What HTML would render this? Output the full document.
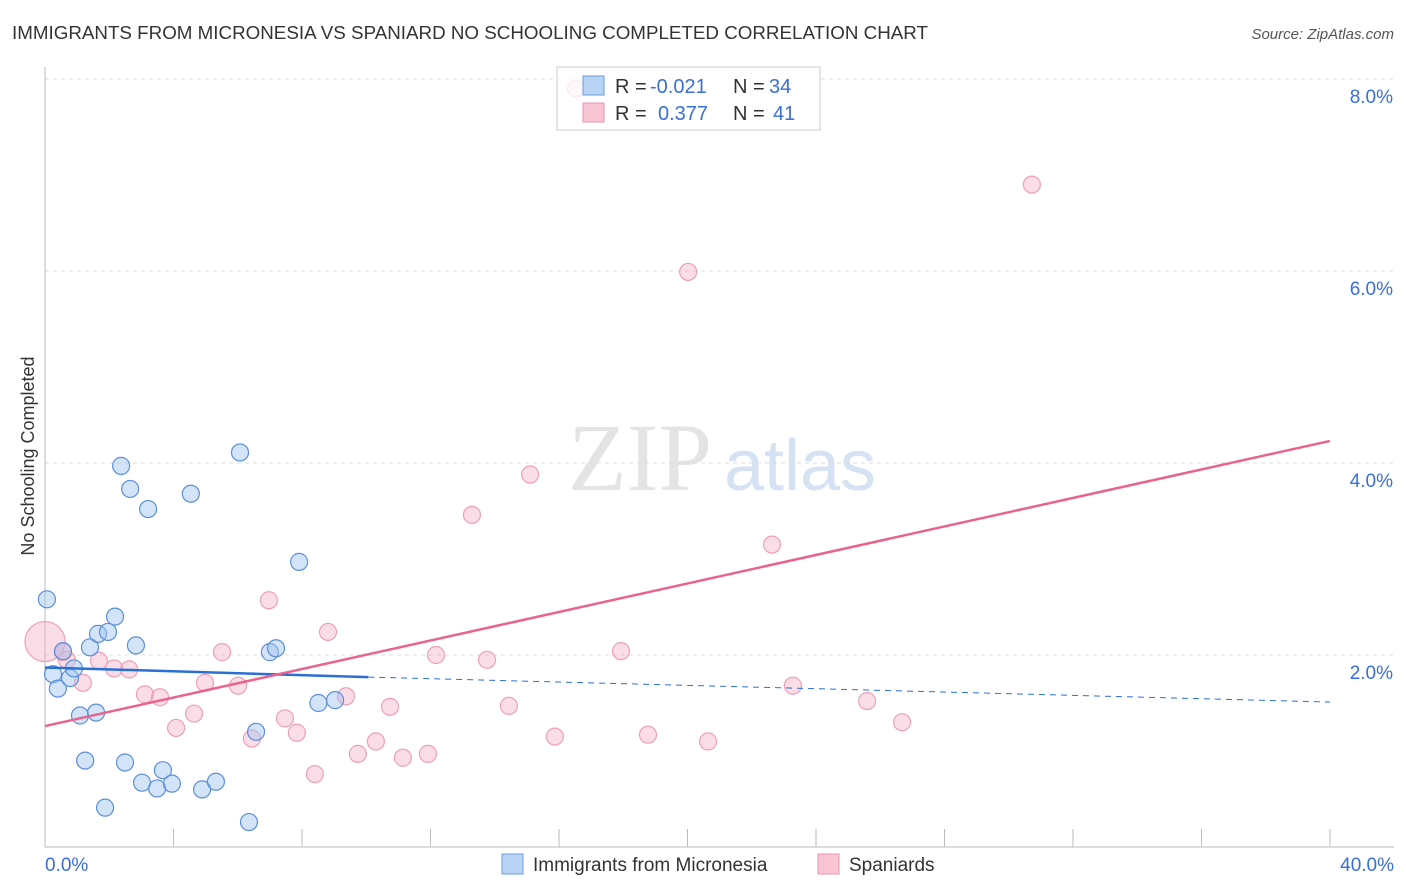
<!DOCTYPE html>
<html><head><meta charset="utf-8">
<style>
body{margin:0;background:#fff;font-family:"Liberation Sans",sans-serif;}
#wrap{position:relative;width:1406px;height:892px;overflow:hidden;}
svg{position:absolute;left:0;top:0;}
</style></head>
<body>
<div id="wrap">
<svg id="chart" width="1406" height="892">
<text x="12" y="39" font-size="18" fill="#333" textLength="916" lengthAdjust="spacingAndGlyphs">IMMIGRANTS FROM MICRONESIA VS SPANIARD NO SCHOOLING COMPLETED CORRELATION CHART</text>
<text x="1394" y="39" font-size="15" fill="#555" font-style="italic" text-anchor="end">Source: ZipAtlas.com</text>
<text x="640" y="490" font-size="96" fill="#e4e4e4" font-family="Liberation Serif" text-anchor="middle">ZIP</text>
<text x="800" y="490" font-size="72" fill="#d4e2f4" text-anchor="middle">atlas</text>
<text transform="translate(34,456) rotate(-90)" font-size="18" fill="#333" text-anchor="middle">No Schooling Completed</text>
<g id="grid"></g><g id="pts"></g><g id="lines"></g>
<g>
<rect x="557" y="67" width="263" height="63" fill="#fff" fill-opacity="0.8" stroke="#ccc"/>
<rect x="583" y="76" width="21" height="19" fill="#b9d3f5" stroke="#6a9de0"/>
<rect x="583" y="103" width="21" height="19" fill="#f9c4d4" stroke="#ec94ae"/>
<text x="615" y="93" font-size="20" fill="#333">R =</text>
<text x="650" y="93" font-size="20" fill="#3a6fd8">-0.021</text>
<text x="733" y="93" font-size="20" fill="#333">N =</text>
<text x="769" y="93" font-size="20" fill="#3a6fd8">34</text>
<text x="615" y="120" font-size="20" fill="#333">R =</text>
<text x="658" y="120" font-size="20" fill="#3a6fd8">0.377</text>
<text x="733" y="120" font-size="20" fill="#333">N =</text>
<text x="773" y="120" font-size="20" fill="#3a6fd8">41</text>
</g>
<g>
<rect x="502" y="854" width="21" height="20" fill="#b9d3f5" stroke="#6a9de0"/>
<text x="533" y="871" font-size="19" fill="#333">Immigrants from Micronesia</text>
<rect x="818" y="854" width="21" height="20" fill="#f9c4d4" stroke="#ec94ae"/>
<text x="849" y="871" font-size="19" fill="#333">Spaniards</text>
</g>
</svg>
</div>
<script>
const yTicks=[2,4,6,8];
const yTickLabels=["2.0%","4.0%","6.0%","8.0%"];
const xTicks=[0,4,8,12,16,20,24,28,32,36,40];
const blueX=[0.06,0.25,0.4,0.56,0.78,0.9,1.09,1.4,1.59,1.25,1.65,1.96,2.18,2.37,2.65,2.83,3.21,2.49,1.87,3.02,3.49,3.67,3.95,4.54,4.89,5.32,6.07,6.35,6.57,7.0,7.19,7.91,8.51,9.03];
const blueY=[2.58,1.80,1.65,2.04,1.76,1.86,1.37,2.08,1.40,0.90,2.22,2.24,2.40,3.97,3.73,2.10,3.52,0.88,0.41,0.67,0.61,0.80,0.66,3.68,0.60,0.68,4.11,0.26,1.20,2.03,2.07,2.97,1.50,1.53];
const pinkX=[0,0.56,0.68,1.18,1.68,2.15,2.62,3.11,3.58,4.08,4.64,4.98,5.51,6.01,6.44,6.97,7.47,7.84,8.4,8.81,9.37,9.74,10.3,10.74,11.14,11.92,12.17,13.29,13.76,14.44,15.1,15.87,16.53,17.93,18.77,20.02,20.64,22.63,23.28,25.59,26.68,30.72];
const pinkY=[2.14,2.03,1.95,1.71,1.94,1.86,1.85,1.59,1.56,1.24,1.39,1.71,2.03,1.68,1.13,2.57,1.34,1.19,0.76,2.24,1.57,0.97,1.10,1.46,0.93,0.97,2.00,3.46,1.95,1.47,3.88,1.15,7.9,2.04,1.17,5.99,1.10,3.15,1.68,1.52,1.30,6.9];
const pinkR=[20];
const blueTrend=[[0,1.87],[10.06,1.77],[40,1.51]];
const pinkTrend=[[0,1.26],[40,4.23]];
const NS="http://www.w3.org/2000/svg";
const X=v=>45+v*32.125, Y=v=>847-v*96;
function mk(t,a,p){const e=document.createElementNS(NS,t);for(const k in a)e.setAttribute(k,a[k]);p.appendChild(e);return e;}
const grid=document.getElementById('grid');
yTicks.forEach((t,i)=>{
 let l=mk('line',{x1:45,x2:1394,y1:Y(t),y2:Y(t),stroke:'#ddd','stroke-dasharray':'4,4'},grid);
 
 
 let tx=mk('text',{x:1393,y:Y(t)+24,'font-size':19,fill:'#3a6fd8','text-anchor':'end'},grid);
 tx.textContent=yTickLabels[i];
 
 
});
let ax=mk('line',{x1:45,x2:45,y1:67,y2:847,stroke:'#bbb'},grid);


let bx=mk('line',{x1:45,x2:1394,y1:847,y2:847,stroke:'#bbb'},grid);


xTicks.forEach(t=>{let l=mk('line',{x1:X(t),x2:X(t),y1:829,y2:847,stroke:'#bbb'},grid);
 
 });
[[0,"0.0%",'start',45],[40,"40.0%",'end',1394]].forEach(d=>{let t=mk('text',{x:d[3],y:871,'font-size':19,fill:'#3a6fd8','text-anchor':d[2]},grid);t.textContent=d[1];
 
 });
const pts=document.getElementById('pts');
pinkX.forEach((v,i)=>{let c=mk('circle',{cx:X(v),cy:Y(pinkY[i]),r:i===0?pinkR[0]:8.5,fill:'rgba(246,170,195,0.4)',stroke:'#eea0b8','stroke-width':1.2},pts);
 
 });
blueX.forEach((v,i)=>{let c=mk('circle',{cx:X(v),cy:Y(blueY[i]),r:8.5,fill:'rgba(160,195,240,0.45)',stroke:'#5b8fdb','stroke-width':1.2},pts);
 
 });
const lines=document.getElementById('lines');
let b1=mk('line',{x1:X(blueTrend[0][0]),y1:Y(blueTrend[0][1]),x2:X(blueTrend[1][0]),y2:Y(blueTrend[1][1]),stroke:'#2a6fd6','stroke-width':2.5},lines);


let b2=mk('line',{x1:X(blueTrend[1][0]),y1:Y(blueTrend[1][1]),x2:X(blueTrend[2][0]),y2:Y(blueTrend[2][1]),stroke:'#2a6fd6','stroke-width':1,'stroke-dasharray':'6,5'},lines);


let p1=mk('line',{x1:X(pinkTrend[0][0]),y1:Y(pinkTrend[0][1]),x2:X(pinkTrend[1][0]),y2:Y(pinkTrend[1][1]),stroke:'#e8648f','stroke-width':2.5},lines);


</script>
</body></html>
